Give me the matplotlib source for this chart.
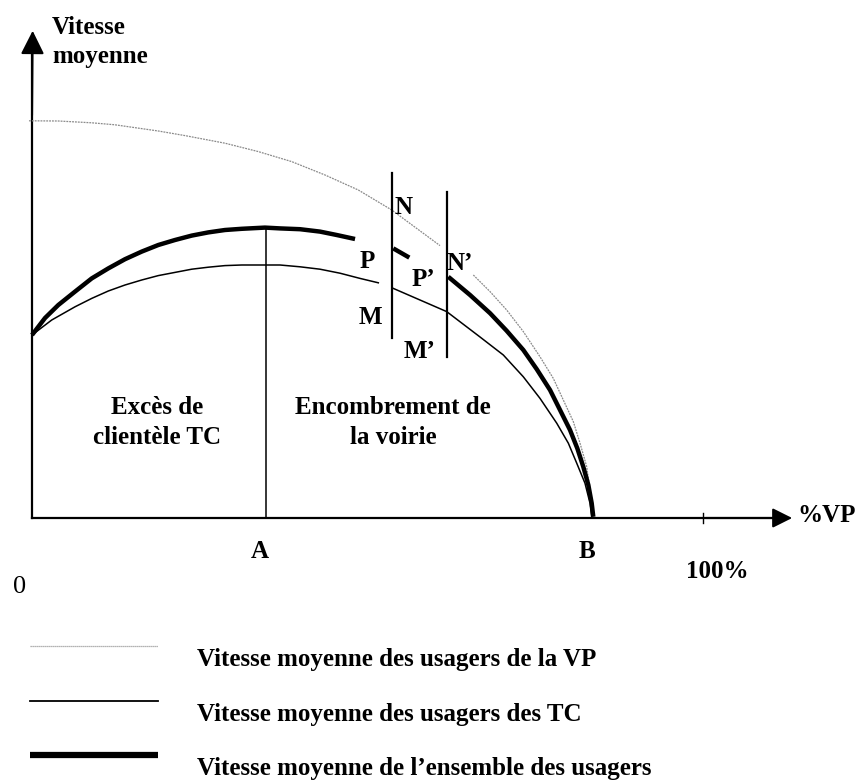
import numpy as np
import matplotlib
matplotlib.use("Agg")
import matplotlib.pyplot as plt

vp_x1 = [-0.45, 3.92, 8.90, 12.37, 18.82, 22.80, 28.76, 33.73, 38.70, 43.67, 48.63, 53.61, 60.80]
vp_y1 = [99.3, 99.25, 98.8, 98.3, 96.75, 95.6, 93.7, 91.6, 89.1, 85.75, 82.0, 77.0, 68.1]
vp_x2 = [65.77, 68.26, 70.74, 73.22, 75.71, 77.69, 79.18, 80.67, 81.67, 82.67, 83.16, 83.65]
vp_y2 = [60.75, 56.6, 52.0, 46.6, 40.3, 34.9, 29.5, 24.1, 18.7, 12.8, 7.0, 0.3]

tc_x1 = [0.0, 2.94, 6.41, 8.90, 11.37, 13.86, 16.35, 18.82, 21.31, 23.80, 26.27, 28.76,
         31.25, 34.72, 36.96, 39.94, 42.92, 45.90, 48.88, 51.61]
tc_y1 = [45.75, 49.5, 52.8, 54.9, 56.75, 58.25, 59.5, 60.6, 61.4, 62.2, 62.7, 63.1,
         63.25, 63.25, 63.25, 62.8, 62.2, 61.2, 59.9, 58.8]
tc_x2 = [53.84, 57.82, 61.80, 66.77, 70.24, 73.22, 75.71, 78.20, 79.93, 81.18, 82.41, 83.16, 83.41]
tc_y2 = [57.4, 54.5, 51.6, 45.25, 40.75, 35.3, 29.9, 23.7, 18.7, 13.7, 8.7, 3.7, 0.3]

ens_x1 = [0.0, 1.94, 3.92, 6.41, 8.90, 11.37, 13.86, 16.35, 18.82, 21.31, 23.80, 26.27,
          28.76, 31.25, 34.72, 36.96, 39.94, 42.92, 45.41, 48.14]
ens_y1 = [45.75, 50.0, 53.25, 56.6, 59.9, 62.4, 64.7, 66.6, 68.25, 69.5, 70.6, 71.4,
          72.0, 72.3, 72.6, 72.4, 72.2, 71.6, 70.75, 69.75]
ens_x2 = [53.84, 56.23]
ens_y2 = [67.4, 65.1]
ens_x3 = [62.04, 65.28, 68.26, 70.74, 73.22, 75.22, 77.20, 78.69, 80.18, 81.27, 82.16, 82.91, 83.41, 83.65]
ens_y3 = [60.3, 55.75, 51.2, 46.8, 42.0, 37.2, 32.0, 27.0, 22.0, 17.4, 12.8, 8.25, 3.7, 0.3]

# segments verticaux MN et M'N'
seg_x = [53.65, 61.85]
seg_bas = [45.0, 40.25]
seg_haut = [86.25, 81.5]

# point A (sommet de la courbe d'ensemble), B, 100%
x_A, y_A = 34.9, 72.6
x_B = 83.6
x_100 = 100

legende = ["Vitesse moyenne des usagers de la VP",
           "Vitesse moyenne des usagers des TC",
           "Vitesse moyenne de l\u2019ensemble des usagers"]

fig = plt.figure(figsize=(8.55, 7.8), dpi=100)
ax = fig.add_axes([0, 0, 1, 1])
ax.set_xlim(-4.77, 122.65)
ax.set_ylim(-65.5, 129.5)
ax.axis("off")

police = dict(family="Liberation Serif", fontweight="bold", fontsize=18)

# axes avec flèches
ax.plot([0, 112], [0, 0], color="black", lw=1.6)
ax.annotate("", xy=(113.7, 0), xytext=(100, 0),
            arrowprops=dict(arrowstyle="-|>", mutation_scale=30, lw=1.5, color="black"))
ax.plot([0, 0], [0, 118], color="black", lw=1.6)
ax.annotate("", xy=(0.1, 122.5), xytext=(0, 100),
            arrowprops=dict(arrowstyle="-|>", mutation_scale=36, lw=1.5, color="black"))
ax.plot([x_100, x_100], [-1.3, 1.3], color="black", lw=1)

# courbes
ax.plot(vp_x1, vp_y1, color="#8a8a8a", lw=0.9, ls=(0, (1.5, 0.8)))
ax.plot(vp_x2, vp_y2, color="#8a8a8a", lw=0.9, ls=(0, (1.5, 0.8)))
ax.plot(tc_x1, tc_y1, color="black", lw=1.1)
ax.plot(tc_x2, tc_y2, color="black", lw=1.1)
for xs, ys in [(ens_x1, ens_y1), (ens_x2, ens_y2), (ens_x3, ens_y3)]:
    ax.plot(xs, ys, color="black", lw=3.2, solid_capstyle="butt")

ax.plot([x_A, x_A], [0, y_A], color="black", lw=1.1)
for x, b, h in zip(seg_x, seg_bas, seg_haut):
    ax.plot([x, x], [b, h], color="black", lw=1.6)

# textes
ax.text(3.0, 122.75, "Vitesse", ha="left", va="center", **police)
ax.text(3.0, 115.5, "moyenne", ha="left", va="center", **police)
ax.text(114, 0.75, "%VP", ha="left", va="center", **police)
ax.text(x_A - 0.9, -8.5, "A", ha="center", va="center", **police)
ax.text(x_B - 0.9, -8.5, "B", ha="center", va="center", **police)
ax.text(102.2, -13.25, "100%", ha="center", va="center", **police)
ax.text(-1.8, -17.25, "0", ha="center", va="center",
        family="Liberation Serif", fontsize=19)

for lettre, x, y in [("N", 55.3, 77.75), ("P", 49.9, 64.0), ("P\u2019", 58.3, 59.5),
                     ("N\u2019", 63.8, 63.75), ("M", 50.4, 50.25), ("M\u2019", 57.8, 41.5)]:
    ax.text(x, y, lettre, ha="center", va="center", **police)

ax.text(18.6, 27.75, "Exc\u00e8s de", ha="center", va="center", **police)
ax.text(18.6, 20.25, "client\u00e8le TC", ha="center", va="center", **police)
ax.text(53.8, 27.75, "Encombrement de", ha="center", va="center", **police)
ax.text(53.8, 20.25, "la voirie", ha="center", va="center", **police)

# légende dessinée à la main
leg_y = [-32.0, -45.75, -59.25]
styles = [dict(color="#9a9a9a", lw=0.9, ls=(0, (1, 0.6))),
          dict(color="black", lw=1.3),
          dict(color="black", lw=4.5, solid_capstyle="butt")]
for y, st, txt in zip(leg_y, styles, legende):
    ax.plot([-0.3, 18.8], [y, y], **st)
    ax.text(24.6, y - 3.4, txt, ha="left", va="center", **police)

fig.savefig("out.png", dpi=100)
